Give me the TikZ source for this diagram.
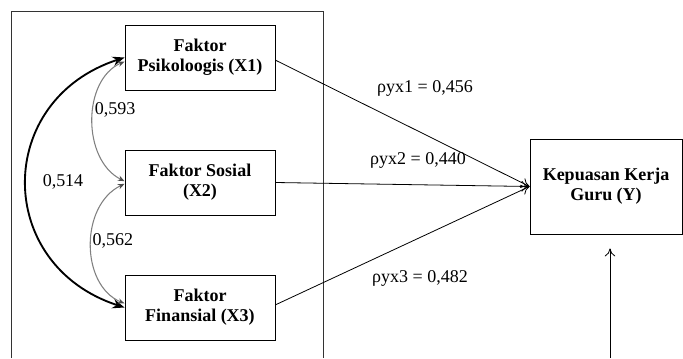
\documentclass[tikz,border=0pt]{standalone}
\usepackage{fontspec}
\setmainfont{Liberation Serif}
\usepackage{tikz}
\usetikzlibrary{positioning,arrows.meta,calc}

\tikzset{
  var/.style={draw, line width=0.7pt, align=center, font=\fontsize{13.5}{15}\selectfont\bfseries,
    minimum width=112.5pt, minimum height=48.75pt, inner sep=0pt},
  coef/.style={font=\fontsize{13.5}{15}\selectfont, inner sep=1pt},
  path/.style={line width=0.6pt, -{To[length=6pt,width=8pt]}},
  corr/.style={line width=1.4pt, {Stealth[length=9pt,width=7pt]}-{Stealth[length=9pt,width=7pt]}},
  corrsmall/.style={line width=0.8pt, gray, {Stealth[length=5pt,width=4pt,black!70]}-{Stealth[length=5pt,width=4pt,black!70]}}
}

\begin{document}
\begin{tikzpicture}[x=0.75pt,y=-0.75pt]
\useasboundingbox (0,0) rectangle (683,358);

% Frame round the exogenous variables
\draw[line width=0.7pt, black!80] (11,358) -- (11,11) -- (323,11) -- (323,358);

% Variables
\node[var] (X1) at (200,57.5) {Faktor\\Psikoloogis (X1)};
\node[var] (X2) at (200,182.5) {Faktor Sosial\\(X2)};
\node[var] (X3) at (200,307.5) {Faktor\\Finansial (X3)};
\node[var, minimum width=114pt, minimum height=71.25pt] (Y) at (606,186.5) {Kepuasan Kerja\\Guru (Y)};

% Correlations
\draw[corr] (X1.west) .. controls (-6,100) and (-6,265) .. (X3.west);
\draw[corrsmall] ([yshift=-3pt]X1.west) .. controls (82,80) and (82,160) .. ([yshift=1pt]X2.west);
\draw[corrsmall] ([yshift=-1pt]X2.west) .. controls (80,205) and (80,285) .. ([yshift=3pt]X3.west);

\node[coef] (r12) at (115,110) {0,593};
\node[coef] (r13) at (63,182) {0,514};
\node[coef] (r23) at (113,241) {0,562};

% Paths to Y
\draw[path] ([yshift=-2pt]X1.east) -- (Y.west);
\draw[path] (X2.east) -- (Y.west);
\draw[path] ([yshift=2pt]X3.east) -- (Y.west);

\node[coef] (p1) at (425,88) {ρyx1 = 0,456};
\node[coef] (p2) at (418,160) {ρyx2 = 0,440};
\node[coef] (p3) at (420,278) {ρyx3 = 0,482};

% Residual
\coordinate (err) at (610,358);
\draw[path, shorten >=10.5pt] (err) -- (err |- Y.south);

\end{tikzpicture}
\end{document}
